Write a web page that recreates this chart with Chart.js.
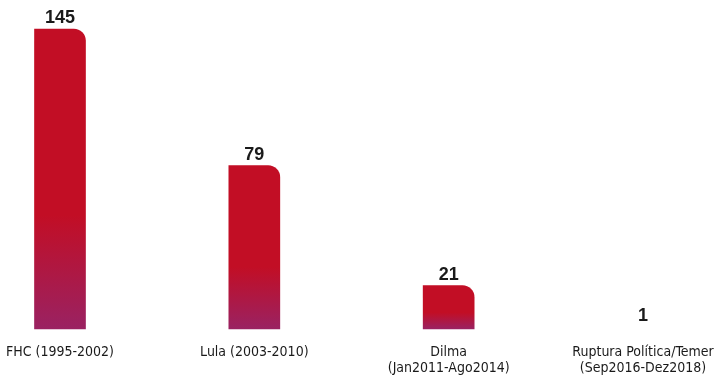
<!DOCTYPE html>
<html>
<head>
<meta charset="utf-8">
<script src="https://cdn.jsdelivr.net/npm/chart.js@4"></script>
<style>
  html, body { margin: 0; padding: 0; background: #fff; }
  #wrap { width: 717px; height: 379px; }
</style>
</head>
<body>
<div id="wrap"><canvas id="chart" width="717" height="379"></canvas></div>
<script>
// Data
const periods = [
    'FHC (1995-2002)',
    'Lula (2003-2010)',
    ['Dilma', '(Jan2011-Ago2014)'],
    ['Ruptura Política/Temer', '(Sep2016-Dez2018)']
];
const counts = [145, 79, 21, 1];

const RED = '#c20e25';
const PURPLE = '#9a2262';
const TEXT = '#1a1a1a';

// per-bar vertical gradient: red on top, purple at the foot
function barFill(context) {
    const chart = context.chart;
    const yScale = chart.scales.y;
    if (!chart.chartArea || !yScale) return RED;
    const top = yScale.getPixelForValue(context.raw);
    const bottom = yScale.getPixelForValue(0);
    // the one-case bar is too thin to show in the original
    if (bottom - top < 3) return 'rgba(0,0,0,0)';
    const g = chart.ctx.createLinearGradient(0, top, 0, bottom);
    g.addColorStop(0, RED);
    g.addColorStop(0.62, RED);
    g.addColorStop(1, PURPLE);
    return g;
}

// value labels above bars
const valueLabels = {
    id: 'valueLabels',
    afterDatasetsDraw(chart) {
        const ctx = chart.ctx;
        const meta = chart.getDatasetMeta(0);
        ctx.save();
        ctx.fillStyle = TEXT;
        ctx.font = 'bold 18px "Liberation Sans", Arial, sans-serif';
        ctx.textAlign = 'center';
        ctx.textBaseline = 'alphabetic';
        meta.data.forEach((bar, i) => {
            ctx.fillText(String(counts[i]), bar.x, bar.y - 6);
        });
        ctx.restore();
    }
};

new Chart(document.getElementById('chart'), {
    type: 'bar',
    data: {
        labels: periods,
        datasets: [{
            data: counts,
            backgroundColor: barFill,
            borderWidth: 0,
            borderRadius: { topLeft: 0, topRight: 12, bottomLeft: 0, bottomRight: 0 },
            borderSkipped: 'bottom',
            barThickness: 51,
            clip: false
        }]
    },
    options: {
        responsive: false,
        animation: false,
        layout: { padding: { top: 29, left: 60, right: 74, bottom: 0 } },
        plugins: {
            legend: { display: false },
            tooltip: { enabled: false }
        },
        scales: {
            x: {
                offset: false,
                grid: { display: false, drawTicks: false },
                border: { display: false },
                ticks: {
                    color: TEXT,
                    padding: 15,
                    maxRotation: 0,
                    autoSkip: false,
                    font: { family: '"DejaVu Sans Condensed", sans-serif', size: 14, lineHeight: 1.14 }
                },
                afterFit(scale) {
                    // keep the layout padding, not the label overflow padding
                    scale.paddingLeft = 0;
                    scale.paddingRight = 0;
                    scale.height = 50;
                }
            },
            y: {
                display: false,
                min: 0,
                max: 145
            }
        }
    },
    plugins: [valueLabels]
});
</script>
</body>
</html>
